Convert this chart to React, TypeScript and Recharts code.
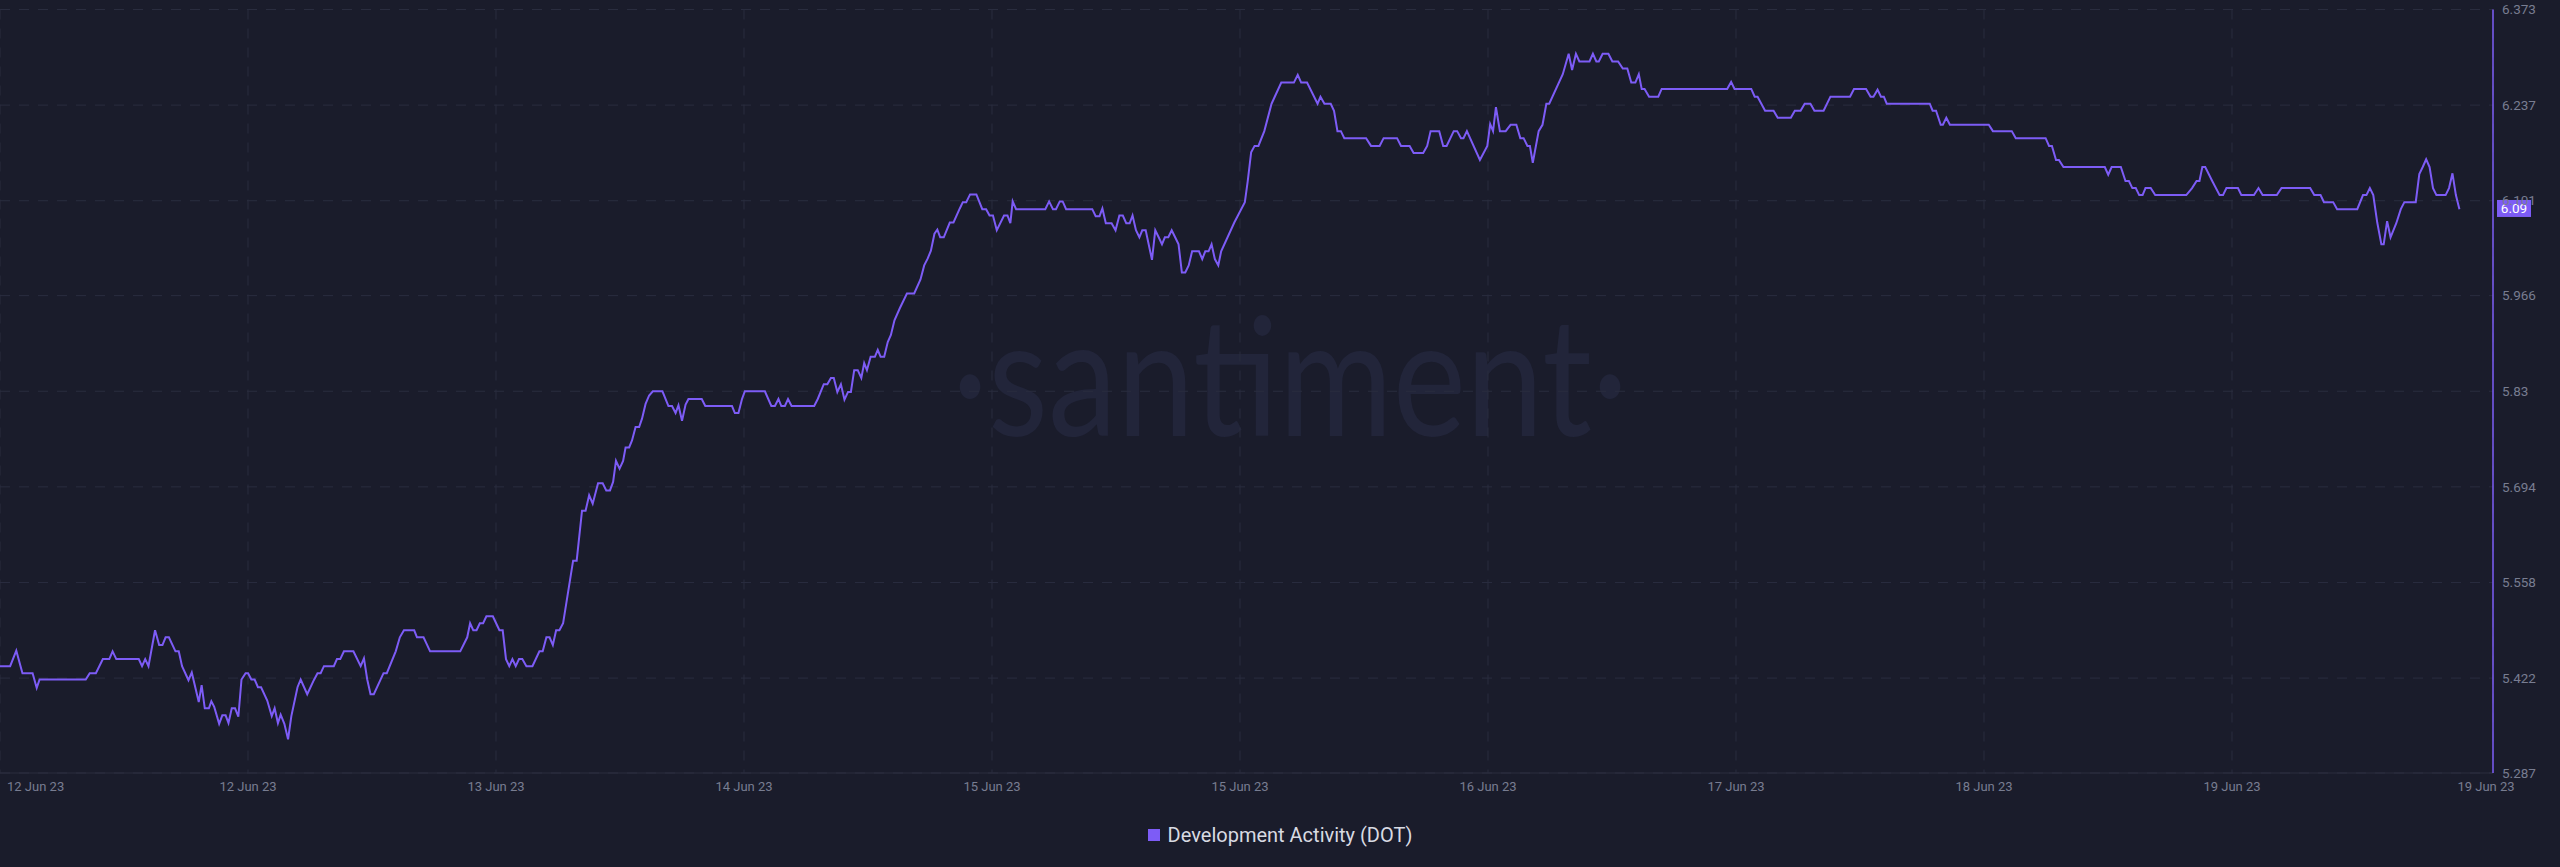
import React from 'react';
import { LineChart, Line, XAxis, YAxis, CartesianGrid, ReferenceLine, Legend } from 'recharts';

// hours since the start of the window (12 Jun 23)
const hours = [
  0, 0.74, 1.19, 1.64, 2.38, 2.68, 2.89, 6.26, 6.55, 7.0, 7.51, 7.98, 8.22, 8.49, 10.13, 10.37, 10.6, 10.84,
  11.32, 11.62, 11.86, 12.09, 12.33, 12.81, 13.05, 13.29, 13.76, 14.0, 14.51, 14.72, 14.95, 15.25, 15.43, 15.64,
  16.0, 16.23, 16.47, 16.68, 16.92, 17.16, 17.4, 17.63, 17.93, 18.11, 18.35, 18.59, 18.83, 19.06, 19.51, 19.84,
  20.05, 20.29, 20.49, 20.76, 21.03, 21.27, 21.72, 21.95, 22.43, 22.91, 23.18, 23.41, 23.65, 24.37, 24.6, 24.84,
  25.11, 25.8, 26.33, 26.57, 26.81, 27.05, 27.29, 28.0, 28.24, 28.89, 29.19, 29.49, 30.24, 30.44, 30.92, 31.4,
  33.6, 34.11, 34.32, 34.55, 34.79, 35.03, 35.27, 35.51, 35.98, 36.46, 36.7, 36.94, 37.18, 37.41, 37.65, 37.89,
  38.13, 38.43, 38.87, 39.38, 39.62, 39.89, 40.12, 40.36, 40.6, 40.84, 41.11,
  41.84, 42.1, 42.49, 42.75, 43.01, 43.27, 43.66, 44.0, 44.26, 44.53, 44.76, 44.97, 45.23, 45.49, 45.67, 45.93,
  46.14, 46.4, 46.66, 46.87, 47.13, 47.39, 47.66, 48.36, 48.8, 49.06, 49.32, 49.53, 49.79, 50.05, 50.26, 51.23,
  51.49, 53.44, 53.65, 53.91, 54.17, 54.38, 55.84, 56.31, 56.57, 56.83, 57.04, 57.3, 57.53, 57.79, 59.44, 59.7,
  60.14, 60.4, 60.66, 60.87, 61.13, 61.39, 61.65, 61.91, 62.12, 62.36, 62.62, 62.88, 63.09, 63.29, 63.56, 63.87,
  64.08, 64.29, 64.55, 64.81, 65.04, 65.3, 65.69, 66.21, 66.74, 67.2, 67.47, 67.73, 67.96, 68.22, 68.43, 68.64,
  68.9, 69.34, 69.61, 70.07,
  70.29, 70.54, 70.82, 71.28, 71.71, 71.99, 72.24, 72.49, 72.77, 73.3, 73.55, 73.76, 73.93, 74.18, 76.31, 76.59,
  76.87, 77.09, 77.37, 77.58, 77.83, 79.74, 79.99, 80.27, 80.48, 80.73, 81.15, 81.44, 81.72, 81.97, 82.22, 82.47,
  82.68, 82.93, 83.18, 83.39, 83.64, 84.1, 84.34, 84.59, 84.83, 85.04, 85.29, 85.54, 85.79, 86.04, 86.28, 86.53,
  86.78, 87.03, 87.53, 87.77, 87.99, 88.23, 88.45, 88.69, 88.94, 89.15, 90.11, 90.88, 91.09, 91.34, 91.59, 91.87,
  92.3, 92.83, 93.54, 94.46, 94.74, 94.99, 95.42, 96.19, 96.4, 96.69, 97.15, 97.39, 97.64, 97.89, 98.14, 99.73,
  100.09, 100.72, 101.01, 101.99, 102.28, 102.91, 103.2, 103.9, 104.19, 104.44, 105.07, 105.36, 105.61, 106.13,
  106.38, 106.66, 106.84, 107.09, 108.04, 108.58, 108.79, 109.0, 109.21, 109.5, 109.92, 110.28, 110.7, 110.99,
  111.23, 111.51, 111.69, 111.9, 112.33, 112.61, 112.89, 113.1, 114.09, 114.52, 114.77, 115.05, 115.3, 116.04,
  116.29, 116.54, 116.72,
  117.0, 117.42, 117.71, 118.13, 118.47, 118.8, 119.09, 119.39, 119.64, 119.85, 120.06, 120.39, 121.06, 121.31,
  126.09, 126.38, 126.63, 127.85, 128.1, 128.31, 128.86, 129.48, 129.78, 130.74, 131.03, 131.45, 131.75, 132.17,
  132.46, 133.13, 133.63, 135.06, 135.35, 136.23, 136.56, 136.77, 137.07, 137.32, 137.53, 137.74, 140.88, 141.09,
  141.34, 141.68, 141.84, 142.09, 142.35, 145.19, 145.49, 146.87, 147.16, 149.34, 149.59, 149.8, 150.1, 150.31,
  150.64, 153.66, 153.91, 154.16, 154.83, 155.17, 155.42, 155.67, 155.92, 156.17, 156.42, 156.63, 157.01, 157.34,
  159.61, 160.03, 160.36, 160.57, 160.78, 160.99, 161.53, 162.04, 162.29, 162.54, 163.38, 163.63, 164.55, 164.88,
  165.18, 166.22, 166.56, 168.65, 168.95, 169.41, 169.66, 170.33, 170.62, 172.09, 172.51, 172.76, 173.01, 173.26,
  173.55, 173.85, 174.02, 174.27, 174.52, 174.94, 175.27, 175.53, 176.36, 176.62, 176.87, 177.12, 177.37, 177.62,
  177.87, 178.54, 178.79, 179.04, 179.29, 179.55,
];

const devActivity = [
  5.439, 5.439, 5.461, 5.429, 5.429, 5.408, 5.42, 5.42, 5.429, 5.429, 5.449, 5.449, 5.46, 5.449, 5.449, 5.439, 5.449, 5.439,
  5.49, 5.469, 5.469, 5.48, 5.48, 5.46, 5.46, 5.439, 5.419, 5.43, 5.388, 5.412, 5.379, 5.379, 5.389, 5.381,
  5.357, 5.369, 5.369, 5.358, 5.379, 5.379, 5.367, 5.42, 5.429, 5.429, 5.42, 5.42, 5.409, 5.409, 5.39, 5.368,
  5.379, 5.358, 5.37, 5.357, 5.335, 5.368, 5.409, 5.42, 5.399, 5.419, 5.429, 5.429, 5.439, 5.439, 5.449, 5.449,
  5.46, 5.46, 5.439, 5.45, 5.42, 5.399, 5.399, 5.429, 5.429, 5.46, 5.48, 5.49, 5.49, 5.48, 5.48, 5.46,
  5.46, 5.48, 5.5, 5.49, 5.49, 5.5, 5.5, 5.51, 5.51, 5.49, 5.49, 5.449, 5.439, 5.449, 5.439, 5.449,
  5.449, 5.439, 5.439, 5.46, 5.46, 5.48, 5.48, 5.469, 5.49, 5.49, 5.5,
  5.589, 5.589, 5.66, 5.66, 5.682, 5.67, 5.699, 5.699, 5.689, 5.689, 5.701, 5.731, 5.72, 5.731, 5.75, 5.75,
  5.76, 5.779, 5.779, 5.791, 5.812, 5.824, 5.83, 5.83, 5.809, 5.809, 5.799, 5.81, 5.788, 5.811, 5.819, 5.819,
  5.809, 5.809, 5.799, 5.799, 5.819, 5.83, 5.83, 5.809, 5.809, 5.819, 5.809, 5.809, 5.819, 5.809, 5.809, 5.819,
  5.84, 5.84, 5.849, 5.849, 5.829, 5.84, 5.818, 5.829, 5.829, 5.86, 5.86, 5.849, 5.87, 5.86, 5.879, 5.879,
  5.889, 5.879, 5.879, 5.9, 5.91, 5.931, 5.948, 5.969, 5.969, 5.989, 6.009, 6.019, 6.03, 6.054, 6.06, 6.049,
  6.049, 6.07, 6.07, 6.09,
  6.099, 6.099, 6.11, 6.11, 6.089, 6.089, 6.08, 6.08, 6.059, 6.08, 6.08, 6.069, 6.1, 6.089, 6.089, 6.1,
  6.089, 6.089, 6.1, 6.1, 6.089, 6.089, 6.079, 6.079, 6.09, 6.069, 6.069, 6.059, 6.08, 6.08, 6.069, 6.069,
  6.08, 6.059, 6.049, 6.059, 6.059, 6.017, 6.059, 6.049, 6.039, 6.049, 6.049, 6.059, 6.049, 6.039, 5.999, 5.999,
  6.009, 6.029, 6.029, 6.018, 6.029, 6.029, 6.039, 6.018, 6.009, 6.029, 6.07, 6.099, 6.129, 6.17, 6.179, 6.179,
  6.2, 6.239, 6.269, 6.269, 6.28, 6.269, 6.269, 6.239, 6.249, 6.239, 6.239, 6.229, 6.2, 6.2, 6.19, 6.19,
  6.179, 6.179, 6.19, 6.19, 6.179, 6.179, 6.169, 6.169, 6.179, 6.2, 6.2, 6.179, 6.179, 6.2,
  6.2, 6.19, 6.19, 6.2, 6.159, 6.179, 6.21, 6.2, 6.234, 6.2, 6.2, 6.209, 6.209, 6.19,
  6.19, 6.179, 6.179, 6.155, 6.2, 6.209, 6.239, 6.239, 6.281, 6.31, 6.287, 6.31, 6.299, 6.299,
  6.31, 6.299, 6.299,
  6.31, 6.31, 6.299, 6.299, 6.289, 6.289, 6.269, 6.269, 6.281, 6.26, 6.26, 6.249, 6.249, 6.26,
  6.26, 6.27, 6.26, 6.26, 6.249, 6.249, 6.229, 6.229, 6.219, 6.219, 6.229, 6.229, 6.239, 6.239,
  6.229, 6.229, 6.249, 6.249, 6.26, 6.26, 6.249, 6.249, 6.259, 6.249, 6.249, 6.239, 6.239, 6.229,
  6.229, 6.209, 6.209, 6.219, 6.209, 6.209, 6.2, 6.2, 6.19, 6.19, 6.179, 6.179, 6.159, 6.159,
  6.149, 6.149, 6.138, 6.149, 6.149, 6.129, 6.129, 6.119, 6.119, 6.109, 6.109, 6.119, 6.119, 6.109,
  6.109, 6.119, 6.129, 6.129, 6.149, 6.149, 6.128, 6.109, 6.109, 6.119, 6.119, 6.109, 6.109, 6.119,
  6.109, 6.109, 6.119, 6.119, 6.109, 6.109, 6.099, 6.099, 6.089, 6.089, 6.109, 6.109, 6.119, 6.109,
  6.07, 6.039, 6.039, 6.072, 6.049, 6.069, 6.089, 6.099, 6.099, 6.139, 6.149, 6.16, 6.149, 6.119,
  6.109, 6.109, 6.119, 6.14, 6.109, 6.089,
];

const xTickLabels = [
  '12 Jun 23', '12 Jun 23', '13 Jun 23', '14 Jun 23', '15 Jun 23', '15 Jun 23',
  '16 Jun 23', '17 Jun 23', '18 Jun 23', '19 Jun 23', '19 Jun 23',
];
const yTicks = [5.287, 5.422, 5.558, 5.694, 5.83, 5.966, 6.101, 6.237, 6.373];
const lastValue = 6.09;
const seriesName = 'Development Activity (DOT)';

const X_END = 182; // hours shown in the window
const X_TICK_STEP = 18.105;

const data = hours.map((h, i) => ({ h, v: devActivity[i] }));
const xTicks = xTickLabels.map((_, i) => (i < xTickLabels.length - 1 ? i * X_TICK_STEP : X_END));

const BG = '#1a1c2b';
const PURPLE = '#7d5cf6';
const GRID = '#2a2d3f';
const TICK_COLOR = '#787d91';
const FONT = 'Roboto, "Noto Sans", sans-serif';

const XTick = (props: any) => {
  const { x, y, index } = props;
  const n = xTickLabels.length;
  let anchor: 'start' | 'middle' | 'end' = 'middle';
  let dx = 0;
  if (index === 0) {
    anchor = 'start';
    dx = 7;
  } else if (index === n - 1) {
    dx = -7;
  }
  return (
    <text x={x + dx} y={y + 17.5} textAnchor={anchor} fill={TICK_COLOR} fontSize={13} fontFamily={FONT}>
      {xTickLabels[index]}
    </text>
  );
};

const YTick = (props: any) => {
  const { x, y, payload } = props;
  return (
    <text x={x + 9} y={y} dy="0.35em" textAnchor="start" fill={TICK_COLOR} fontSize={13.5} fontFamily={FONT}>
      {String(payload.value)}
    </text>
  );
};

const LastValueLabel = (props: any) => {
  const vb = props.viewBox || {};
  const bx = vb.x + vb.width + 4;
  const by = vb.y;
  return (
    <g>
      <rect x={bx} y={by - 8.5} width={34} height={17} fill={PURPLE} />
      <text x={bx + 17} y={by} dy="0.35em" textAnchor="middle" fill="#ffffff" fontSize={13.5} fontFamily={FONT}>
        {String(lastValue)}
      </text>
    </g>
  );
};

const LegendContent = () => (
  <div
    style={{
      height: 30,
      display: 'flex',
      justifyContent: 'center',
      alignItems: 'center',
      fontFamily: FONT,
      fontSize: 20,
      color: '#d8dae2',
    }}
  >
    <span style={{ display: 'inline-block', width: 12, height: 12, background: PURPLE, marginRight: 8 }} />
    <span>{seriesName}</span>
  </div>
);

export default function App() {
  return (
    <div style={{ position: 'absolute', left: 0, top: 0, width: 2560, height: 867, background: BG, overflow: 'hidden' }}>
      <div
        style={{
          position: 'absolute',
          left: 0,
          top: 290,
          width: 2580,
          textAlign: 'center',
          fontFamily: 'Lato, "Open Sans", sans-serif',
          fontWeight: 400,
          fontSize: 165,
          lineHeight: '165px',
          color: '#22253a',
          transform: 'scaleX(0.84)',
          transformOrigin: '1290px 0',
          whiteSpace: 'nowrap',
          userSelect: 'none',
        }}
      >
        ·santiment·
      </div>
      <div style={{ position: 'absolute', left: 0, top: 0 }}>
        <LineChart width={2560} height={867} data={data} margin={{ top: 9.5, right: 0, bottom: 17, left: 0 }}>
          <CartesianGrid stroke={GRID} strokeDasharray="10 9" />
          <XAxis
            dataKey="h"
            type="number"
            domain={[0, X_END]}
            ticks={xTicks}
            interval={0}
            height={47}
            tickLine={false}
            tickSize={0}
            tickMargin={0}
            axisLine={{ stroke: GRID }}
            tick={<XTick />}
          />
          <YAxis
            orientation="right"
            domain={[5.287, 6.373]}
            ticks={yTicks}
            interval={0}
            width={67}
            tickLine={false}
            tickSize={0}
            tickMargin={0}
            axisLine={{ stroke: PURPLE, strokeWidth: 1.5 }}
            tick={<YTick />}
          />
          <ReferenceLine y={lastValue} stroke="none" ifOverflow="visible" label={<LastValueLabel />} />
          <Line
            type="linear"
            dataKey="v"
            name={seriesName}
            stroke={PURPLE}
            strokeWidth={2}
            dot={false}
            activeDot={false}
            isAnimationActive={false}
          />
          <Legend verticalAlign="bottom" content={<LegendContent />} />
        </LineChart>
      </div>
    </div>
  );
}
